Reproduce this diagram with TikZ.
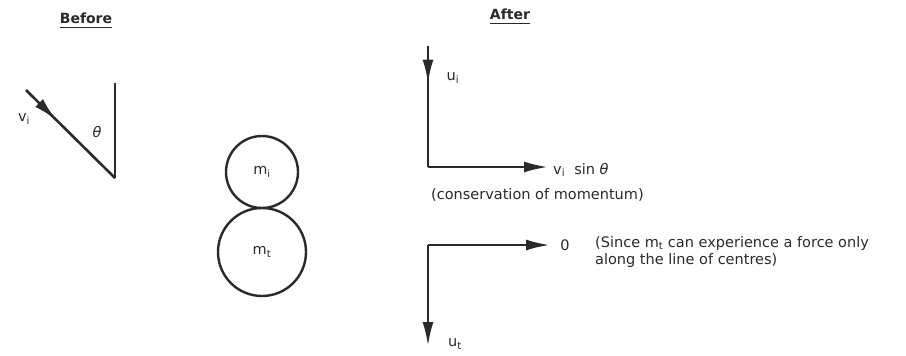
\documentclass[tikz,border=0pt]{standalone}
\usepackage{fontspec}
\setmainfont{DejaVu Sans}
\usetikzlibrary{arrows.meta,decorations.markings}
\definecolor{ink}{HTML}{2A2A2A}
\tikzset{
  vec/.style={draw=ink, line width=2.6pt},
  headend/.style={-{Latex[length=24pt,width=11pt]}},
  midhead/.style={postaction={decorate},decoration={markings,mark=at position #1 with {\arrow{Latex[length=24pt,width=11pt]}}}},
  lbl/.style={text=ink, inner sep=0pt, font=\fontsize{14.5}{17}\selectfont},
  ttl/.style={text=ink, inner sep=0pt, font=\fontsize{14}{16}\selectfont\bfseries},
  ball/.style={circle, draw=ink, line width=2.4pt, inner sep=0pt},
}
\begin{document}
\begin{tikzpicture}[x=1pt,y=-1pt]
\useasboundingbox (0,0) rectangle (906,356);
% titles
\node[ttl] (before) at (86,18) {Before};
\draw[ink, line width=1pt] ([yshift=-4pt]before.south west) -- ([yshift=-4pt]before.south east);
\node[ttl] (after) at (510,14) {After};
\draw[ink, line width=1pt] ([yshift=-4pt]after.south west) -- ([yshift=-4pt]after.south east);
% Before: incident direction
\coordinate (s) at (26,90);
\coordinate (c) at (115,178);
\coordinate (vtop) at (115,83);
\draw[vec, midhead=0.34] (s) -- (c);
\draw[vec, line width=2.2pt] (vtop) -- (c);
\node[lbl] (vi) at (24,119) {v\textsubscript{i}};
\node[lbl] (theta) at (97,132) {\textit{θ}};
% balls
\node[ball, minimum size=72pt] (mi) at (262,172) {};
\node[ball, minimum size=88pt] (mt) at (262,252) {};
\node[lbl] (mil) at (262,172) {m\textsubscript{i}};
\node[lbl] (mtl) at (262,252) {m\textsubscript{t}};
% After: upper
\coordinate (a0) at (428,46);
\coordinate (a1) at (428,167);
\coordinate (a2) at (548,167);
\draw[vec, midhead=0.31] (a0) -- (a1);
\draw[vec, headend] (a1) -- (a2);
\node[lbl] (ui) at (453,78) {u\textsubscript{i}};
\node[lbl, anchor=west] (vsin) at (553,170) {v\textsubscript{i}\ \ sin \textit{θ}};
\node[lbl, anchor=west] (cons) at (431,195) {(conservation of momentum)};
% After: lower
\coordinate (b0) at (428,245);
\coordinate (b1) at (550,245);
\coordinate (b2) at (428,346);
\draw[vec, headend] (b0) -- (b1);
\draw[vec, headend] (b0) -- (b2);
\node[lbl] (zero) at (565,245) {0};
\node[lbl] (ut) at (455,344) {u\textsubscript{t}};
\node[lbl, anchor=north west, align=left] (since) at (595,236) {(Since m\textsubscript{t} can experience a force only\\along the line of centres)};
\end{tikzpicture}
\end{document}
